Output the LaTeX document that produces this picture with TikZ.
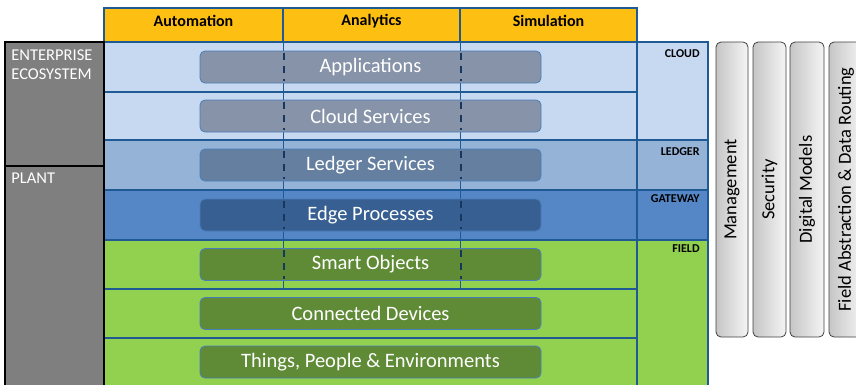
\documentclass[tikz,border=0pt]{standalone}
\usepackage{fontspec}
\setmainfont{Carlito}
\usetikzlibrary{positioning,calc}
\definecolor{hdryellow}{HTML}{FDBF12}
\definecolor{lineblue}{HTML}{1F5A94}
\definecolor{cloudblue}{HTML}{C6D9F1}
\definecolor{ledgerblue}{HTML}{95B3D7}
\definecolor{gateblue}{HTML}{5587C6}
\definecolor{fieldgreen}{HTML}{92D050}
\definecolor{sidegray}{HTML}{7F7F7F}
\definecolor{appbox}{HTML}{8693A8}
\definecolor{ledgerbox}{HTML}{647F9F}
\definecolor{edgebox}{HTML}{375F92}
\definecolor{fieldbox}{HTML}{5F8B36}
\definecolor{boxrim}{HTML}{4A7EBB}
\definecolor{dashnavy}{HTML}{17375E}
\tikzset{
	layer/.style={draw=lineblue, line width=1.6pt, minimum width=533, inner sep=0pt},
	tiercell/.style={draw=lineblue, line width=1.6pt, minimum width=71, inner sep=0pt},
	tierlbl/.style={font=\bfseries\fontsize{12}{12}\selectfont, inner sep=0pt},
	hdrcell/.style={draw=lineblue, line width=1.6pt, fill=hdryellow, minimum height=34, inner sep=0pt},
	hdrlbl/.style={font=\bfseries\fontsize{16}{16}\selectfont},
	sidecell/.style={draw=black, line width=1.6pt, fill=sidegray, minimum width=99, inner sep=0pt},
	sidelbl/.style={font=\fontsize{16.5}{19.5}\selectfont, text=white, align=left, inner sep=0pt},
	func/.style={draw=boxrim, line width=0.8pt, rounded corners=5pt, minimum width=341, minimum height=32, text=white, font=\fontsize{20.5}{20.5}\selectfont},
	colline/.style={draw=lineblue, line width=1.2pt},
	dashline/.style={draw=dashnavy, line width=1.8pt, dash pattern=on 7pt off 6pt},
	bar/.style={draw=black!75, line width=0.8pt, rounded corners=5pt, minimum height=295, left color=gray!45, right color=gray!8, inner sep=0pt},
	barlbl/.style={font=\fontsize{18.5}{18.5}\selectfont}
}
\begin{document}
\begin{tikzpicture}[x=1pt,y=-1pt]
	\useasboundingbox (0,0) rectangle (856,384);
	
	% layers of the stack
	\node[layer, fill=cloudblue, minimum height=50] (applayer) at (370.5,67) {};
	\node[layer, fill=cloudblue, minimum height=48] (cloudlayer) at (370.5,116) {};
	\node[layer, fill=ledgerblue, minimum height=50] (ledgerlayer) at (370.5,165) {};
	\node[layer, fill=gateblue, minimum height=50] (gatelayer) at (370.5,215) {};
	\node[layer, fill=fieldgreen, minimum height=49] (smartlayer) at (370.5,264.5) {};
	\node[layer, fill=fieldgreen, minimum height=49] (devlayer) at (370.5,313.5) {};
	\node[layer, fill=fieldgreen, minimum height=48] (thinglayer) at (370.5,362) {};
	
	% tiers on the right
	\node[tiercell, fill=cloudblue, minimum height=98] (cloud) at (672.5,91) {};
	\node[tiercell, fill=ledgerblue, minimum height=50] (ledger) at (672.5,165) {};
	\node[tiercell, fill=gateblue, minimum height=50] (gateway) at (672.5,215) {};
	\node[tiercell, fill=fieldgreen, minimum height=150] (field) at (672.5,315) {};
	\node[tierlbl, anchor=north east] at ([xshift=-9pt,yshift=-8pt]cloud.north east) {CLOUD};
	\node[tierlbl, anchor=north east] at ([xshift=-9pt,yshift=-8pt]ledger.north east) {LEDGER};
	\node[tierlbl, anchor=north east] at ([xshift=-9pt,yshift=-5pt]gateway.north east) {GATEWAY};
	\node[tierlbl, anchor=north east] at ([xshift=-9pt,yshift=-5pt]field.north east) {FIELD};
	
	% header
	\node[hdrcell, minimum width=179, label={[hdrlbl, yshift=4pt]center:Automation}] (auto) at (193.5,25) {};
	\node[hdrcell, minimum width=177, label={[hdrlbl, yshift=4pt]center:Analytics}] (analytics) at (371.5,25) {};
	\node[hdrcell, minimum width=177, label={[hdrlbl, yshift=4pt]center:Simulation}] (simulation) at (548.5,25) {};
	\coordinate (c1) at (auto.south east);
	\coordinate (c2) at (analytics.south east);
	
	% column lines down to the smart objects
	\draw[colline] (c1) -- (c1 |- smartlayer.south);
	\draw[colline] (c2) -- (c2 |- smartlayer.south);
	
	% functional boxes
	\node[func, fill=appbox] (apps) at (applayer) {Applications};
	\node[func, fill=appbox] (cloudsvc) at (cloudlayer) {Cloud Services};
	\node[func, fill=ledgerbox] (ledgersvc) at (ledgerlayer) {Ledger Services};
	\node[func, fill=edgebox] (edge) at (gatelayer) {Edge Processes};
	\node[func, fill=fieldbox] (smart) at (smartlayer) {Smart Objects};
	\node[func, fill=fieldbox] (devices) at (devlayer) {Connected Devices};
	\node[func, fill=fieldbox] (things) at (thinglayer) {Things, People \& Environments};
	\foreach \b in {apps,cloudsvc,ledgersvc,edge,smart}{
		\draw[dashline] ([yshift=-2pt]\b.north -| c1) -- ([yshift=2pt]\b.south -| c1);
		\draw[dashline] ([yshift=-2pt]\b.north -| c2) -- ([yshift=2pt]\b.south -| c2);
	}
	
	% left side
	\node[sidecell, minimum height=124] (enterprise) at (54.5,104) {};
	\node[sidecell, minimum height=224] (plant) at (54.5,278) {};
	\node[sidelbl, anchor=north west] at ([xshift=7pt,yshift=-8pt]enterprise.north west) {ENTERPRISE\\ECOSYSTEM};
	\node[sidelbl, anchor=north west] at ([xshift=7pt,yshift=-8pt]plant.north west) {PLANT};
	
	% cross-cutting bars
	\node[bar, minimum width=32, label={[barlbl, rotate=90]center:Management}] (mgmt) at (732,189.5) {};
	\node[bar, minimum width=33, label={[barlbl, rotate=90]center:Security}] (security) at (769.5,189.5) {};
	\node[bar, minimum width=34, label={[barlbl, rotate=90]center:Digital Models}] (models) at (807,189.5) {};
	\node[bar, minimum width=34, label={[barlbl, rotate=90]center:Field Abstraction \& Data Routing}] (routing) at (846,189.5) {};
\end{tikzpicture}
\end{document}
